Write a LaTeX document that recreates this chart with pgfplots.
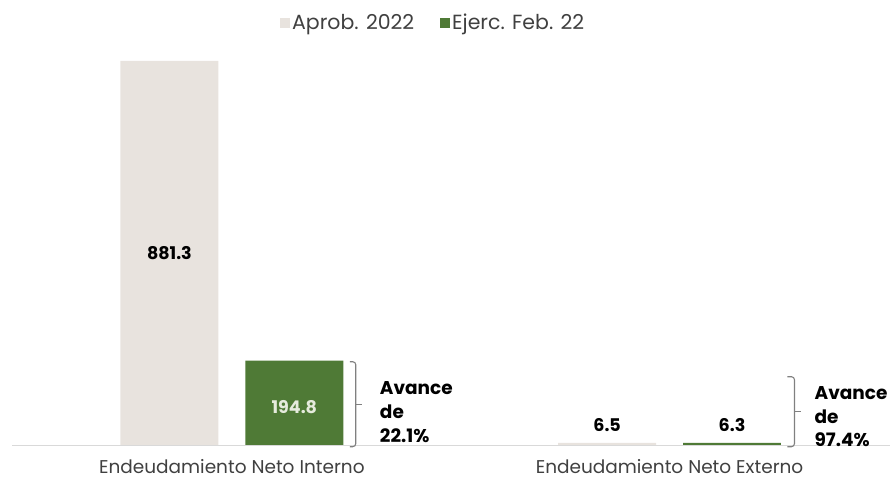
\documentclass[border=0pt]{standalone}
\usepackage{fontspec}
\setmainfont{Poppins}
\usepackage{pgfplots}
\pgfplotsset{compat=1.18}
\definecolor{cgray}{HTML}{E8E3DE}
\definecolor{cgreen}{HTML}{4F7A36}
\definecolor{clabel}{HTML}{E6EBDD}
\definecolor{ctext}{HTML}{404040}
\definecolor{cline}{HTML}{D9D9D9}
\definecolor{cbrace}{HTML}{808080}
\begin{document}
\begin{tikzpicture}
\begin{axis}[
  scale only axis, width=891bp, height=481bp,
  xmin=-0.5297, xmax=1.5046, ymin=-80.1, ymax=1020.8,
  axis line style={draw=none}, xtick=\empty, ytick=\empty,
  ybar=27bp, bar width=98bp, clip=false,
  legend columns=2,
  legend style={draw=none, fill=none, at={(rel axis cs:0.4865,0.953)}, anchor=center,
    font=\fontsize{20.5bp}{24bp}\selectfont\color{ctext},
    nodes={inner sep=2bp},
    /tikz/every even column/.append style={column sep=24bp}},
  legend image code/.code={\fill[#1,draw=none] (0bp,-5bp) rectangle (10bp,5bp);},
]
\addplot[fill=cgray, draw=none] coordinates {(0,881.3) (1,6.5)};
\addlegendentry{Aprob. 2022}
\addplot[fill=cgreen, draw=none] coordinates {(0,194.8) (1,6.3)};
\addlegendentry{Ejerc. Feb. 22}
\draw[cline, line width=1.2bp] (axis cs:-0.502,0) -- (axis cs:1.5046,0);
% value labels
\node[font=\fontsize{17.5bp}{20bp}\selectfont\bfseries, text=black] at (axis cs:-0.1427,441.7) {881.3};
\node[font=\fontsize{17.5bp}{20bp}\selectfont\bfseries, text=clabel] at (axis cs:0.1427,88) {194.8};
\node[font=\fontsize{17.5bp}{20bp}\selectfont\bfseries, text=black] at (axis cs:0.8573,48) {6.5};
\node[font=\fontsize{17.5bp}{20bp}\selectfont\bfseries, text=black] at (axis cs:1.1427,48) {6.3};
% category labels
\node[font=\fontsize{18.5bp}{22bp}\selectfont, text=ctext, inner sep=0pt] at (axis cs:0,-47) {Endeudamiento Neto Interno};
\node[font=\fontsize{18.5bp}{22bp}\selectfont, text=ctext, inner sep=0pt] at (axis cs:1,-47) {Endeudamiento Neto Externo};
% brackets
\draw[cbrace, line width=1.1bp, rounded corners=3bp] (axis cs:0.2694,192.3) -- ([xshift=6bp]axis cs:0.2694,192.3) -- ([xshift=6bp]axis cs:0.2694,-2.3) -- (axis cs:0.2694,-2.3);
\draw[cbrace, line width=1.1bp] ([xshift=6bp]axis cs:0.2694,94) -- ([xshift=12bp]axis cs:0.2694,94);
\draw[cbrace, line width=1.1bp, rounded corners=3bp] (axis cs:1.2694,158) -- ([xshift=7bp]axis cs:1.2694,158) -- ([xshift=7bp]axis cs:1.2694,-2.3) -- (axis cs:1.2694,-2.3);
\draw[cbrace, line width=1.1bp] ([xshift=7bp]axis cs:1.2694,77.8) -- ([xshift=14bp]axis cs:1.2694,77.8);
% annotations
\node[anchor=west, align=left, font=\fontsize{18.5bp}{24bp}\selectfont\bfseries, text=black, inner sep=0pt] at (axis cs:0.338,76.7) {Avance\\de\\22.1\%};
\node[anchor=west, align=left, font=\fontsize{18.5bp}{23.5bp}\selectfont\bfseries, text=black, inner sep=0pt] at (axis cs:1.331,66.4) {Avance\\de\\97.4\%};
\end{axis}
\end{tikzpicture}
\end{document}
